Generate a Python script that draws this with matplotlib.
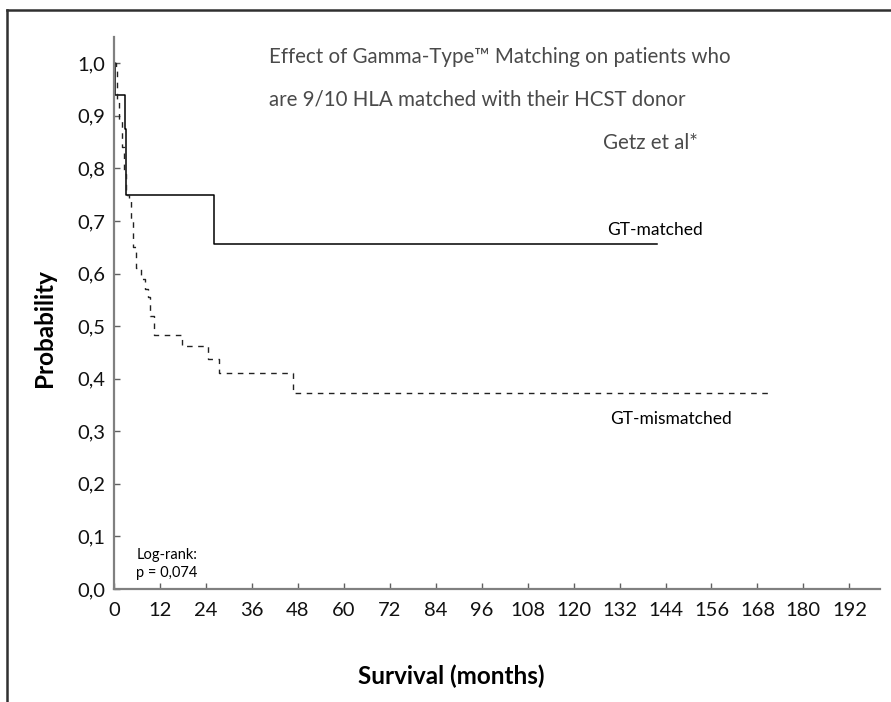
import matplotlib.pyplot as plt
from matplotlib.lines import Line2D

# Kaplan-Meier step curves (months, probability)
matched_t = [0, 0.3, 2.9, 3.1, 26.1, 141.8]
matched_p = [1.0, 0.94, 0.875, 0.75, 0.656, 0.656]

mismatched_t = [0, 0.5, 0.8, 1.3, 2.0, 2.6, 3.1, 3.8, 4.4, 5.0, 5.8, 7.0, 8.0,
                8.9, 9.4, 10.5, 17.7, 24.6, 27.4, 46.8, 171.8]
mismatched_p = [1.0, 0.985, 0.93, 0.89, 0.84, 0.79, 0.75, 0.74, 0.70, 0.65, 0.61,
                0.59, 0.57, 0.555, 0.52, 0.484, 0.463, 0.437, 0.411, 0.373, 0.373]

x_ticks = list(range(0, 193, 12))
y_ticks = [i / 10 for i in range(11)]
y_labels = ['%.1f' % v for v in y_ticks]
y_labels = [s.replace('.', ',') for s in y_labels]

W, H = 891, 702
fig = plt.figure(figsize=(W / 100, H / 100), dpi=100)
ax = fig.add_axes([114 / W, 1 - 589 / H, (880 - 114) / W, (589 - 37) / H])

ax.step(matched_t, matched_p, where='post', color='black', lw=1.1)
ax.step(mismatched_t, mismatched_p, where='post', color='#222222', lw=1.0,
        linestyle=(0, (4, 4)))

ax.set_xlim(0, 200)
ax.set_ylim(0, 1.05)
ax.set_xticks(x_ticks)
ax.set_yticks(y_ticks)
ax.set_yticklabels(y_labels)

for s in ['top', 'right']:
    ax.spines[s].set_visible(False)
for s in ['left', 'bottom']:
    ax.spines[s].set_color('#808080')
    ax.spines[s].set_linewidth(1.6)
ax.tick_params(direction='in', length=4, width=1, color='#606060',
               labelsize=14.5)
ax.tick_params(axis='x', pad=9)
ax.tick_params(axis='y', pad=6)
for lab in ax.get_xticklabels() + ax.get_yticklabels():
    lab.set_family('Lato')
    lab.set_color('#111111')

ax.text(128.7, 0.683, 'GT-matched', fontsize=12.5, family='Lato', va='center')
ax.text(129.6, 0.323, 'GT-mismatched', fontsize=12.5, family='Lato', va='center')
ax.text(6.0, 0.064, 'Log-rank:', fontsize=10.5, family='Lato', va='center')
ax.text(5.7, 0.030, 'p = 0,074', fontsize=10.5, family='Lato', va='center')

# title block (thin font)
tkw = dict(fontsize=14.8, family='Lato', fontweight='normal', color='#4a4a4a')
fig.text(269 / W, 1 - 57 / H, 'Effect of Gamma-Type\u2122 Matching on patients who',
         va='center', ha='left', **tkw)
fig.text(269 / W, 1 - 100 / H, 'are 9/10 HLA matched with their HCST donor',
         va='center', ha='left', **tkw)
fig.text(698 / W, 1 - 143 / H, 'Getz et al*', va='center', ha='right', **tkw)

fig.text(45 / W, 1 - 328 / H, 'Probability', rotation=90, fontsize=17.5,
         fontweight='bold', family='Lato', ha='center', va='center')
fig.text(451 / W, 1 - 676 / H, 'Survival (months)', fontsize=17.5,
         fontweight='bold', family='Lato', ha='center', va='center')

# frame lines (top and left)
fig.add_artist(Line2D([7 / W, 1], [1 - 10 / H, 1 - 10 / H], color='#303030', lw=1.8))
fig.add_artist(Line2D([7 / W, 7 / W], [1 - 10 / H, 0], color='#303030', lw=1.8))

fig.savefig('out.png', dpi=100)
